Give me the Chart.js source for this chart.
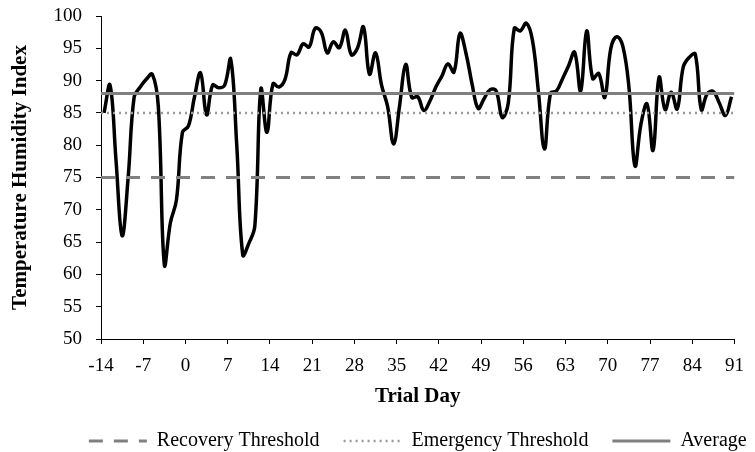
<!DOCTYPE html>
<html>
<head>
<meta charset="utf-8">
<script src="https://cdn.jsdelivr.net/npm/chart.js@4.4.1/dist/chart.umd.min.js"></script>
<style>
  html, body { margin: 0; padding: 0; background: #fff; }
  canvas { display: block; }
</style>
</head>
<body>
<canvas id="thiChart" width="755" height="452"></canvas>
<script>
// ===== Datos =====
const trialDays = [
    -14, -13, -12, -11, -10, -9, -8,
    -7, -6, -5, -4, -3, -2, -1,
    0, 1, 2, 3, 4, 5, 6,
    7, 8, 9, 10, 11, 12, 13,
    14, 15, 16, 17, 18, 19, 20,
    21, 22, 23, 24, 25, 26, 27,
    28, 29, 30, 31, 32, 33, 34,
    35, 36, 37, 38, 39, 40, 41,
    42, 43, 44, 45, 46, 47, 48,
    49, 50, 51, 52, 53, 54, 55,
    56, 57, 58, 59, 60, 61, 62,
    63, 64, 65, 66, 67, 68, 69,
    70, 71, 72, 73, 74, 75, 76,
    77, 78, 79, 80, 81, 82, 83,
    84, 85, 86, 87, 88, 89, 90
];

const thiValues = [
    85, 89.3, 77.5, 66, 75, 87.5, 89,
    90.2, 91, 86, 61.5, 68, 71.5, 82,
    83, 87.5, 91.2, 84.7, 89.3, 88.9, 89.3,
    93.3, 80, 63, 64.8, 67.5, 88.7, 82,
    89.5, 89, 90.2, 94.3, 94, 95.7, 95.2,
    98.1, 97.5, 94.3, 96, 95.1, 97.8, 94,
    95, 98.3, 91, 94.3, 89.3, 86, 80.2,
    86.2, 92.5, 87.4, 87.5, 85.4, 86.8, 89,
    90.7, 92.6, 91.3, 97.3, 94.2, 89.5, 85.7,
    87.2, 88.6, 88.4, 84.3, 86.5, 98.1, 97.7,
    98.9, 96.3, 88.3, 79.4, 88, 88.4, 90.3,
    92.3, 94.4, 88.4, 97.7, 90.3, 91.1, 87.4,
    95, 96.8, 95.3, 89, 76.8, 83.3, 86.4,
    79.2, 90.5, 85.5, 88.2, 85.6, 92.1, 93.6,
    94.1, 85.5, 88, 88.3, 86.5, 84.6, 87.5
];

const thresholdLabels = ['Recovery Threshold', 'Emergency Threshold', 'Average'];
const thresholdValues = [75, 85, 88];
const dayRange = [-14, 91];
const yRange = [50, 100];

const serif = 'Liberation Serif, Times New Roman, serif';

// cada día se dibuja en el centro de su intervalo (como un eje de categorías)
const thiPoints = trialDays.map((d, i) => ({ x: d + 0.5, y: thiValues[i] }));

const thresholdStyles = [
    { color: '#808080', width: 3, dash: [14, 11] },
    { color: '#9a9a9a', width: 2.5, dash: [2, 4] },
    { color: '#808080', width: 3, dash: [] }
];

const thresholdSets = thresholdLabels.map((label, i) => ({
    label: label,
    data: dayRange.map(d => ({ x: d, y: thresholdValues[i] })),
    borderColor: thresholdStyles[i].color,
    backgroundColor: thresholdStyles[i].color,
    borderWidth: thresholdStyles[i].width,
    borderDash: thresholdStyles[i].dash,
    borderCapStyle: 'butt',
    pointRadius: 0,
    tension: 0
}));

// Leyenda con muestras de línea (guiones / puntos) de cada umbral
function thresholdLegendItems(chart) {
    return chart.data.datasets
        .map((ds, i) => ({
            text: ds.label,
            datasetIndex: i,
            strokeStyle: ds.borderColor,
            fillStyle: ds.borderColor,
            lineWidth: ds.borderWidth,
            lineDash: ds.borderDash,
            lineCap: 'butt',
            pointStyle: 'line',
            fontColor: '#000',
            hidden: false
        }))
        .filter(item => item.text !== 'THI');
}

// Centrar la leyenda bajo el área del gráfico
const legendUnderPlot = {
    id: 'legendUnderPlot',
    afterLayout(chart) {
        const lg = chart.legend;
        const area = chart.chartArea;
        if (!lg) return;
        const shift = (area.left + area.right) / 2 - (lg.left + lg.right) / 2;
        lg.left += shift;
        lg.right += shift;
        lg.top -= 2;
        lg.bottom -= 2;
    }
};

new Chart(document.getElementById('thiChart'), {
    type: 'line',
    data: {
        datasets: [
            ...thresholdSets,
            {
                label: 'THI',
                data: thiPoints,
                borderColor: '#000',
                backgroundColor: '#000',
                borderWidth: 3.5,
                pointRadius: 0,
                tension: 0.4,
                fill: false
            }
        ]
    },
    options: {
        responsive: false,
        devicePixelRatio: 1,
        animation: false,
        layout: {
            padding: { top: 16, right: 17, bottom: -11, left: 0 }
        },
        plugins: {
            legend: {
                position: 'bottom',
                labels: {
                    usePointStyle: true,
                    pointStyleWidth: 58,
                    padding: 24,
                    color: '#000',
                    font: { family: serif, size: 20 },
                    generateLabels: thresholdLegendItems
                }
            },
            tooltip: { enabled: false }
        },
        scales: {
            x: {
                type: 'linear',
                min: dayRange[0],
                max: dayRange[1],
                afterFit: s => { s.height = 70; },
                ticks: {
                    stepSize: 7,
                    autoSkip: false,
                    maxRotation: 0,
                    padding: 11,
                    color: '#000',
                    font: { family: serif, size: 19 }
                },
                grid: {
                    drawOnChartArea: false,
                    drawTicks: true,
                    tickLength: 5,
                    color: '#000'
                },
                border: { color: '#000', width: 1 },
                title: {
                    display: true,
                    text: 'Trial Day',
                    color: '#000',
                    padding: 0,
                    font: { family: serif, size: 21, weight: 'bold' }
                }
            },
            y: {
                min: yRange[0],
                max: yRange[1],
                afterFit: s => {
                    s.width = 101;
                    s.paddingTop = 0;
                    s.paddingBottom = 0;
                },
                ticks: {
                    stepSize: 5,
                    padding: 14,
                    color: '#000',
                    font: { family: serif, size: 19 }
                },
                grid: {
                    drawOnChartArea: false,
                    drawTicks: true,
                    tickLength: 5,
                    color: '#000'
                },
                border: { color: '#000', width: 1 },
                title: {
                    display: true,
                    text: 'Temperature Humidity Index',
                    color: '#000',
                    padding: { top: 8, bottom: 0 },
                    font: { family: serif, size: 21, weight: 'bold' }
                }
            }
        }
    },
    plugins: [legendUnderPlot]
});
</script>
</body>
</html>
